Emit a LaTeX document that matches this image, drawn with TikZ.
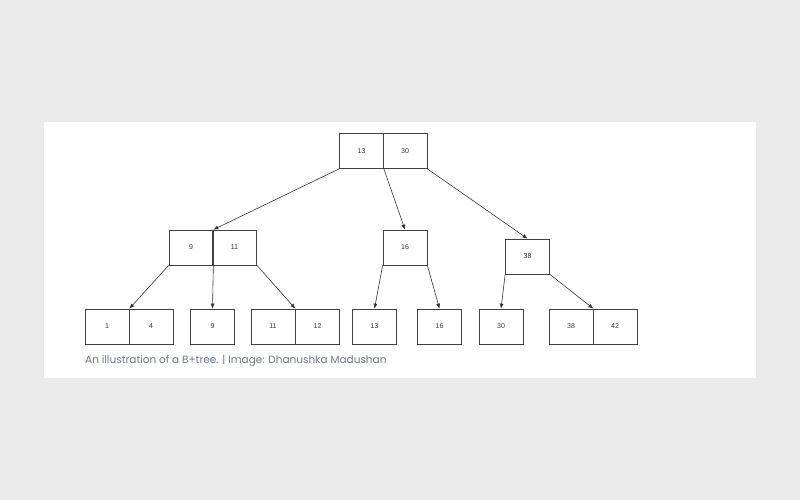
\documentclass[tikz,border=0pt]{standalone}
\usepackage{fontspec}
\setmainfont{Liberation Sans}
\newfontfamily\capfont{Poppins}
\usetikzlibrary{arrows.meta}
\begin{document}
\begin{tikzpicture}[x=1pt,y=-1pt,
  cell/.style={draw=black!75,line width=0.7pt,inner sep=0pt,minimum width=44pt,minimum height=35pt,font=\fontsize{7}{8}\selectfont,text=black!80},
  link/.style={draw=black!80,line width=0.6pt,-{Latex[length=5pt,width=4pt]}}]
\fill[black!8] (0,0) rectangle (800,500);
\fill[white] (44,122) rectangle (756,378);
% root
\node[cell] (r1) at (361.5,151) {13};
\node[cell] (r2) at (405,151) {30};
% level 2
\node[cell] (a1) at (191,247.5) {9};
\node[cell] (a2) at (234.5,247.5) {11};
\node[cell] (b1) at (405,247.5) {16};
\node[cell] (c1) at (527.5,256.5) {38};
% leaves
\node[cell] (l1) at (107,326.5) {1};
\node[cell] (l2) at (151,326.5) {4};
\node[cell] (l3) at (212.5,326.5) {9};
\node[cell] (l4) at (273,326.5) {11};
\node[cell] (l5) at (317.5,326.5) {12};
\node[cell] (l6) at (374.5,326.5) {13};
\node[cell] (l7) at (439.5,326.5) {16};
\node[cell] (l8) at (501,326.5) {30};
\node[cell] (l9) at (571,326.5) {38};
\node[cell] (l10) at (615,326.5) {42};
% connectors
\draw[link] (r1.south west) -- (a1.north east);
\draw[link] (r1.south east) -- (b1.north);
\draw[link] (r2.south east) -- (c1.north);
\draw[link] (a1.south west) -- (l1.north east);
\draw[link] (a1.south east) -- (l3.north);
\draw[link] (a2.south east) -- (l4.north east);
\draw[link] (b1.south west) -- (l6.north);
\draw[link] (b1.south east) -- (l7.north);
\draw[link] (c1.south west) -- (l8.north);
\draw[link] (c1.south east) -- (l9.north east);
% caption
\node[anchor=west,inner sep=0pt,font=\capfont\fontsize{10.5}{12}\selectfont,text={rgb,255:red,110;green,120;blue,135}] (cap) at (85,361) {An illustration of a B+tree. | Image: Dhanushka Madushan};
\end{tikzpicture}
\end{document}
